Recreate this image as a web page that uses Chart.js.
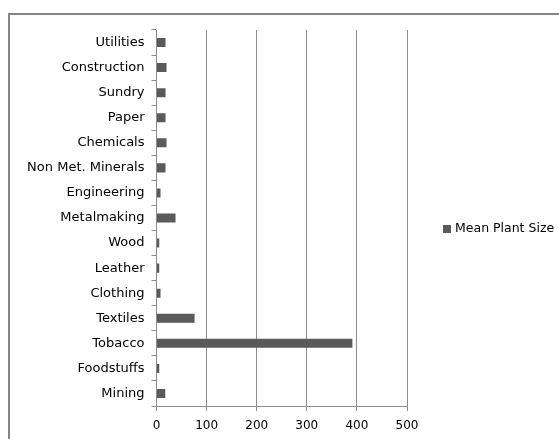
<!DOCTYPE html>
<html>
<head>
<meta charset="utf-8">
<script src="https://cdn.jsdelivr.net/npm/chart.js@4/dist/chart.umd.min.js"></script>
<style>
  html, body { margin: 0; padding: 0; background: #fff; }
  body { width: 559px; height: 439px; overflow: hidden; position: relative; }
  #frame {
    position: absolute; left: 8px; top: 13px; width: 600px; height: 500px;
    border-left: 2px solid #858585; border-top: 2px solid #858585;
    box-sizing: border-box;
  }
  #wrap { position: absolute; left: 10px; top: 15px; width: 549px; height: 424px; }
</style>
</head>
<body>
<div id="frame"></div>
<div id="wrap"><canvas id="c"></canvas></div>
<script>
// Industries, listed top to bottom
const industries = [
  'Utilities', 'Construction', 'Sundry', 'Paper', 'Chemicals',
  'Non Met. Minerals', 'Engineering', 'Metalmaking', 'Wood', 'Leather',
  'Clothing', 'Textiles', 'Tobacco', 'Foodstuffs', 'Mining'
];
// Mean plant size per industry
const meanPlantSize = [18, 20, 18, 18, 20, 18, 8, 38, 5.5, 5.5, 8, 76, 391, 5.5, 17.5];
const seriesName = 'Mean Plant Size';
const xTicks = [0, 100, 200, 300, 400, 500];

const FONT = 'DejaVu Sans';
const BAR = '#5a5a5a';
const GRID = '#8c8c8c';

// Legend drawn at the right of the plot
const sideLegend = {
  id: 'sideLegend',
  afterDraw(chart) {
    const ctx = chart.ctx;
    const area = chart.chartArea;
    const x = area.right + 36;
    const y = (area.top + area.bottom) / 2 + 11;
    ctx.save();
    ctx.fillStyle = BAR;
    ctx.fillRect(x, y - 4, 8, 8);
    ctx.fillStyle = '#000';
    ctx.font = '12.5px "' + FONT + '"';
    ctx.textBaseline = 'middle';
    ctx.textAlign = 'left';
    ctx.fillText(seriesName, x + 12, y);
    ctx.restore();
  }
};

new Chart(document.getElementById('c'), {
  type: 'bar',
  data: {
    labels: industries,
    datasets: [{
      label: seriesName,
      data: meanPlantSize,
      backgroundColor: BAR,
      borderWidth: 0,
      barPercentage: 1,
      categoryPercentage: 0.36
    }]
  },
  options: {
    indexAxis: 'y',
    responsive: true,
    maintainAspectRatio: false,
    animation: false,
    layout: { padding: { top: 15, right: 152, bottom: 0, left: 0 } },
    plugins: { legend: { display: false }, tooltip: { enabled: false } },
    scales: {
      x: {
        min: 0, max: 500,
        afterBuildTicks(scale) { scale.ticks = xTicks.map(v => ({ value: v })); },
        afterFit(scale) { scale.height = 33; },
        grid: { color: GRID, lineWidth: 1, tickLength: 5, tickColor: GRID, drawOnChartArea: true },
        border: { color: GRID, width: 1 },
        ticks: { color: '#000', font: { family: FONT, size: 12 }, padding: 8, maxRotation: 0 }
      },
      y: {
        afterFit(scale) { scale.width = 146.5; },
        grid: { offset: true, drawOnChartArea: false, tickLength: 5, tickColor: GRID },
        border: { color: GRID, width: 1 },
        ticks: { color: '#000', font: { family: FONT, size: 13 }, padding: 7, autoSkip: false }
      }
    }
  },
  plugins: [sideLegend]
});
</script>
</body>
</html>
